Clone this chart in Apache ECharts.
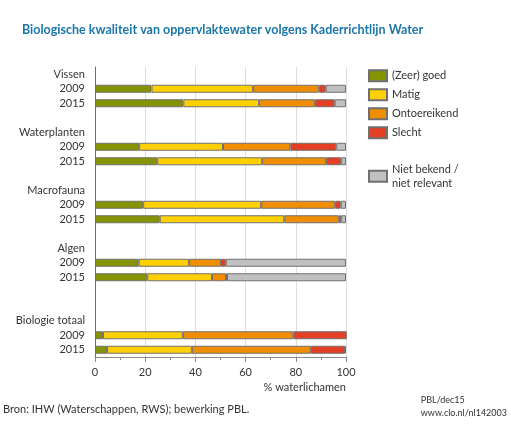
<!DOCTYPE html>
<html>
<head>
<meta charset="utf-8">
<script src="https://cdn.jsdelivr.net/npm/echarts@6/dist/echarts.min.js"></script>
<style>html,body{margin:0;padding:0;background:#fff}#c{width:511px;height:426px}</style>
</head>
<body>
<div id="c"></div>
<script>
// ---- data ----
var groups = ['Vissen', 'Waterplanten', 'Macrofauna', 'Algen', 'Biologie totaal'];
var years = ['2009', '2015'];
var seriesNames = ['(Zeer) goed', 'Matig', 'Ontoereikend', 'Slecht', 'Niet bekend / niet relevant'];
// values per group/year, order: Vissen 2009, 2015, Waterplanten 2009, 2015, ...
var goed         = [22.5, 35.2, 17.6, 24.8, 19.2, 25.8, 17.4, 20.8, 3.2, 4.8];
var matig        = [40.5, 30.2, 33.4, 41.8, 47.0, 49.6, 20.0, 25.8, 31.8, 33.8];
var ontoereikend = [26.3, 22.3, 26.8, 25.5, 29.5, 21.7, 12.8, 5.6, 44.0, 47.4];
var slecht       = [2.6, 7.8, 18.3, 6.0, 2.2, 1.0, 1.9, 0.4, 21.0, 13.6];
var onbekend     = [8.1, 4.5, 3.9, 1.9, 2.1, 1.9, 47.9, 47.4, 0, 0.4];
var xTicks = [0, 20, 40, 60, 80, 100];

var colors = ['#869300', '#ffd000', '#f08e00', '#e43e24', '#c0c0c0'];
var valueSets = [goed, matig, ontoereikend, slecht, onbekend];

// ---- build category rows (group label row, year rows, blank spacer rows) ----
var rows = [], rowLabel = {}, rowIndex = [];
groups.forEach(function (g, gi) {
  if (gi === groups.length - 1) { rows.push('blank_extra'); rowLabel['blank_extra'] = ''; rowIndex.push(-1); }
  var gk = 'g_' + gi; rows.push(gk); rowLabel[gk] = g; rowIndex.push(-1);
  years.forEach(function (y, yi) {
    var k = 'y_' + gi + '_' + y; rows.push(k); rowLabel[k] = y; rowIndex.push(gi * years.length + yi);
  });
  if (gi < groups.length - 1) { var bk = 'blank_' + gi; rows.push(bk); rowLabel[bk] = ''; rowIndex.push(-1); }
});

var series = seriesNames.map(function (name, si) {
  return {
    name: name,
    type: 'bar',
    stack: 'total',
    barWidth: 8,
    itemStyle: { color: colors[si], borderColor: '#707070', borderWidth: 1 },
    emphasis: { disabled: true },
    data: rowIndex.map(function (ri) { return ri < 0 ? '-' : valueSets[si][ri]; })
  };
});

var chart = echarts.init(document.getElementById('c'), null, { renderer: 'canvas' });
var FONT = 'Lato';
chart.setOption({
  animation: false,
  textStyle: { fontFamily: FONT },
  title: {
    text: 'Biologische kwaliteit van oppervlaktewater volgens Kaderrichtlijn Water',
    left: 17, top: 18,
    textStyle: { fontFamily: FONT, fontSize: 12.5, fontWeight: 'bold', color: '#1b76aa' }
  },
  legend: [{
    data: seriesNames.slice(0, 4),
    orient: 'vertical', left: 363, top: 64,
    itemWidth: 18, itemHeight: 11, itemGap: 5.5,
    icon: 'rect',
    selectedMode: false,
    textStyle: { fontFamily: FONT, fontSize: 11, color: '#333', lineHeight: 13.5 }
  }, {
    data: [seriesNames[4]],
    orient: 'vertical', left: 363, top: 151,
    itemWidth: 18, itemHeight: 11,
    icon: 'rect',
    selectedMode: false,
    formatter: function (n) { return n.replace(' / ', ' /\n'); },
    textStyle: { fontFamily: FONT, fontSize: 11, color: '#333', lineHeight: 13.5, padding: [13.5, 0, 0, 0] }
  }],
  grid: { left: 95, right: 165, top: 67, bottom: 69, containLabel: false },
  xAxis: {
    type: 'value', min: xTicks[0], max: xTicks[xTicks.length - 1], interval: 20,
    name: '% waterlichamen', nameLocation: 'end', nameGap: 0,
    nameTextStyle: { fontFamily: FONT, fontSize: 11, color: '#333', align: 'right', verticalAlign: 'top', padding: [25, 0, 0, 0] },
    axisLine: { show: true, lineStyle: { color: '#8a8a8a', width: 1 } },
    axisTick: { show: true, length: 5, lineStyle: { color: '#8a8a8a' } },
    minorTick: { show: true, splitNumber: 2, length: 3, lineStyle: { color: '#8a8a8a' } },
    splitLine: { show: true, lineStyle: { color: '#dedede', width: 1 } },
    axisLabel: { fontFamily: FONT, fontSize: 11, color: '#333', margin: 10 }
  },
  yAxis: {
    type: 'category', inverse: true, data: rows,
    axisLine: { show: true, lineStyle: { color: '#6e6e6e', width: 1 } },
    axisTick: { show: false },
    splitLine: { show: false },
    axisLabel: {
      interval: 0, margin: 10, fontFamily: FONT, fontSize: 11, color: '#333',
      formatter: function (v) { return rowLabel[v]; }
    }
  },
  graphic: [{
    type: 'text', left: 3, top: 404,
    style: { text: 'Bron: IHW (Waterschappen, RWS); bewerking PBL.', fontFamily: FONT, fontSize: 11, fill: '#333' }
  }, {
    type: 'text', right: 4, top: 394,
    style: { text: 'PBL/dec15\nwww.clo.nl/nl142003', fontFamily: FONT, fontSize: 9, lineHeight: 13, fill: '#333', align: 'right' }
  }],
  series: series
});
</script>
</body>
</html>
